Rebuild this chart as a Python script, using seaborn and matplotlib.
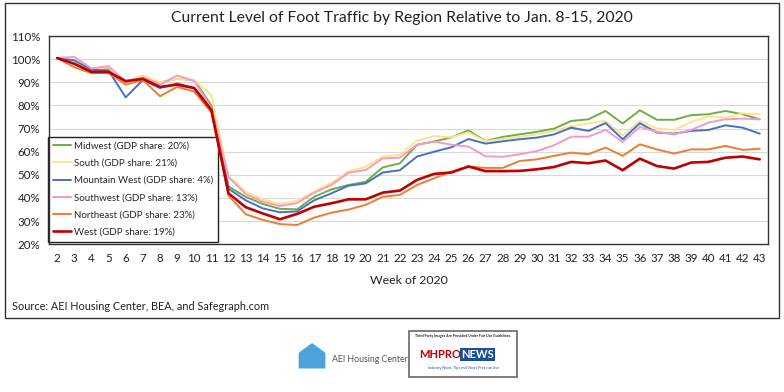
import numpy as np
import pandas as pd
import seaborn as sns
import matplotlib.pyplot as plt
from matplotlib.patches import Rectangle, Polygon

# week numbers (x axis)
weeks = list(range(2, 44))

# foot traffic relative to Jan 8-15 (%)
midwest = [100.5, 99, 95, 96, 90.5, 92, 90, 91.5, 91, 80,
           45, 40.5, 37.4, 35.3, 35.1, 40.5, 43.7, 45.6, 47, 53.2,
           55, 63, 64.4, 66.2, 69.2, 64.6, 66.4, 67.5, 68.6, 70,
           73.3, 74, 77.6, 72.2, 77.9, 73.8, 73.8, 75.8, 76.2, 77.6,
           76.2, 74]
south = [100.5, 99, 95.5, 96.5, 90, 93, 90, 91.5, 91, 84.5,
         49.5, 42.7, 39.4, 37.4, 38.8, 42.7, 46.6, 51.4, 53.5, 57.9,
         58.6, 64.8, 66.8, 66.2, 68.4, 64.5, 65.5, 66.5, 67.5, 69,
         71, 72.2, 73.3, 67.1, 73.3, 70, 69.4, 72.9, 75.2, 74.8,
         76.6, 76.2]
mountain_west = [100.5, 99.5, 95.5, 95, 83.5, 91, 87.5, 89.5, 87.5, 79,
                 44, 39, 35.5, 33.8, 34.2, 39, 42, 45.3, 46.3, 51,
                 52, 57.9, 60, 61.9, 65.5, 63.5, 64.5, 65.4, 66.1, 67.5,
                 70.4, 69, 72.4, 65.4, 72.3, 68.3, 67.8, 69, 69.4, 71.4,
                 70.4, 67.8]
southwest = [100.5, 101, 96, 97, 90, 92, 89, 93, 90.5, 79,
             49, 41.7, 38.4, 36.5, 37.8, 42.3, 45.6, 50.9, 52.1, 57.1,
             57.4, 63, 64.4, 63, 62.2, 58, 57.8, 58.9, 60.3, 62.8,
             66.5, 66.5, 69.4, 64.2, 70.7, 68.6, 67.5, 69.4, 72.6, 74,
             74.3, 74]
northeast = [100.5, 96.5, 94, 94, 89, 91, 84, 88, 86, 77,
             41, 33, 30.5, 28.7, 28.3, 31.5, 33.6, 35, 37, 40.5,
             41.3, 45.6, 48.5, 51.4, 53.6, 53, 53, 56, 56.7, 58.2,
             59.6, 58.9, 61.8, 58.2, 63.2, 61, 59.2, 61, 61, 62.5,
             60.8, 61.3]
west = [100.5, 98, 94.5, 94.5, 90.5, 91.5, 88, 89, 87.5, 78,
        42, 36, 33.3, 30.8, 33.1, 36.2, 37.7, 39.4, 39.4, 42.3,
        43.2, 47.8, 50.4, 51, 53.6, 51.6, 51.6, 51.7, 52.4, 53.4,
        55.6, 55, 56.2, 52, 57, 53.8, 52.7, 55.3, 55.6, 57.4,
        57.9, 56.7]

labels = ["Midwest (GDP share: 20%)", "South (GDP share: 21%)",
          "Mountain West (GDP share: 4%)", "Southwest (GDP share: 13%)",
          "Northeast (GDP share: 23%)", "West (GDP share: 19%)"]
colors = ["#70AD47", "#FFE38A", "#4472C4", "#F49AC8", "#ED7D31", "#C00000"]
widths = [1.4, 1.4, 1.4, 1.4, 1.4, 1.9]

series = [midwest, south, mountain_west, southwest, northeast, west]
frames = []
for lab, vals in zip(labels, series):
    frames.append(pd.DataFrame({"week": weeks, "value": vals, "region": lab}))
df = pd.concat(frames, ignore_index=True)

sns.set_theme(style="white")
plt.rcParams["font.family"] = ["Lato", "DejaVu Sans"]

fig = plt.figure(figsize=(7.84, 3.92), dpi=100)
ax = fig.add_axes([0.062, 0.377, 0.918, 0.531])

# draw each line through seaborn
for lab, col, lw in zip(labels, colors, widths):
    sns.lineplot(data=df[df.region == lab], x="week", y="value", color=col,
                 linewidth=lw, label=lab, ax=ax, zorder=3)

ax.set_xlim(weeks[0] - 0.5, weeks[-1] + 0.5)
ax.set_ylim(20, 110)
ax.set_xticks(weeks)
ax.set_xticklabels([str(w) for w in weeks], fontsize=8.3, color="#222222")
yt = np.arange(20, 111, 10)
ax.set_yticks(yt)
ax.set_yticklabels([f"{v}%" for v in yt], fontsize=8.3, color="#222222")
ax.tick_params(axis="both", length=0, pad=6)
ax.grid(axis="y", color="#D9D9D9", linewidth=0.8)
ax.set_axisbelow(True)
for s in ax.spines.values():
    s.set_color("#333333")
    s.set_linewidth(1.0)
ax.set_xlabel("Week of 2020", fontsize=8.8, color="#222222", labelpad=8)
ax.set_ylabel("")

leg = ax.legend(loc="lower left", bbox_to_anchor=(-0.001, 0.012), fontsize=7.0,
                frameon=True, fancybox=False, borderpad=0.5, handlelength=1.9,
                labelspacing=0.85, handletextpad=0.3, borderaxespad=0)
leg.get_frame().set_edgecolor("#222222")
leg.get_frame().set_linewidth(1.0)
leg.get_frame().set_alpha(1)
leg.set_zorder(2)

fig.text(0.512, 0.953, "Current Level of Foot Traffic by Region Relative to Jan. 8-15, 2020",
         ha="center", va="center", fontsize=11.3, color="#222222")
fig.text(0.015, 0.217, "Source: AEI Housing Center, BEA, and Safegraph.com",
         ha="left", va="center", fontsize=7.8, color="#222222")

# outer frame
fig.patches.append(Rectangle((0.006, 0.189), 0.988, 0.803, transform=fig.transFigure,
                             fill=False, edgecolor="#333333", linewidth=1.0))

# AEI logo
fig.patches.append(Polygon([(0.381, 0.06), (0.381, 0.10), (0.398, 0.125), (0.415, 0.10), (0.415, 0.06)],
                           closed=True, transform=fig.transFigure,
                           facecolor="#4DA3D9", edgecolor="none"))
fig.text(0.424, 0.083, "AEI Housing Center", fontsize=6.3, color="#555555",
         ha="left", va="center")

# MHProNews box
fig.patches.append(Rectangle((0.522, 0.038), 0.138, 0.118, transform=fig.transFigure,
                             facecolor="white", edgecolor="#666666", linewidth=1.2))
fig.text(0.591, 0.142, "Third Party Images Are Provided Under Fair Use Guidelines.",
         fontsize=2.6, ha="center", va="center", color="#222222", weight="bold")
fig.text(0.588, 0.095, "MHPRO", fontsize=8, ha="right", va="center",
         color="#C00000", weight="bold")
fig.text(0.588, 0.095, "NEWS", fontsize=8, ha="left", va="center",
         color="white", weight="bold",
         bbox=dict(boxstyle="square,pad=0.1", facecolor="#1F4E9A", edgecolor="none"))
fig.text(0.591, 0.062, "Industry News, Tips and Views Pros can Use",
         fontsize=2.6, ha="center", va="center", color="#1F4E9A")

fig.savefig("out.png", dpi=100)
